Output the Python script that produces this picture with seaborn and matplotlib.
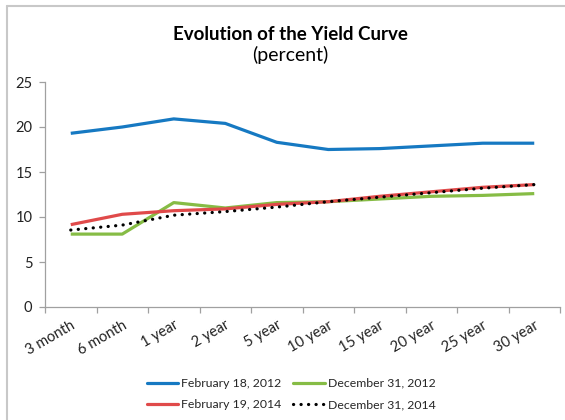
import matplotlib
matplotlib.use("Agg")
import matplotlib.pyplot as plt
from matplotlib.lines import Line2D
import pandas as pd
import seaborn as sns

maturities = ["3 month", "6 month", "1 year", "2 year", "5 year",
              "10 year", "15 year", "20 year", "25 year", "30 year"]
feb_2012 = [19.3, 20.0, 20.9, 20.4, 18.3, 17.5, 17.6, 17.9, 18.2, 18.2]
dec_2012 = [8.1, 8.1, 11.6, 11.0, 11.6, 11.7, 12.0, 12.3, 12.4, 12.6]
feb_2014 = [9.15, 10.3, 10.7, 10.9, 11.4, 11.7, 12.3, 12.8, 13.3, 13.6]
dec_2014 = [8.55, 9.1, 10.2, 10.6, 11.1, 11.7, 12.2, 12.7, 13.2, 13.6]
series_names = ["February 18, 2012", "December 31, 2012",
                "February 19, 2014", "December 31, 2014"]
y_ticks = [0, 5, 10, 15, 20, 25]

sns.set_theme(style="white")
plt.rcParams["font.family"] = ["Lato", "DejaVu Sans"]

W, H = 565, 420
fig = plt.figure(figsize=(W / 100, H / 100), dpi=100)
ax = fig.add_axes([45 / W, 1 - 307 / H, (560 - 45) / W, (307 - 82) / H])

styles = [
    dict(color="#1679C2", linestyle="-", lw=2.3),
    dict(color="#86BC45", linestyle="-", lw=2.3),
    dict(color="#E04A4A", linestyle="-", lw=2.3),
    dict(color="black", linestyle=(0, (0.05, 2.3)), lw=2.3),
]
values = [feb_2012, dec_2012, feb_2014, dec_2014]

handles = []
for name, vals, st in zip(series_names, values, styles):
    df = pd.DataFrame({"x": range(len(maturities)), "y": vals})
    sns.lineplot(data=df, x="x", y="y", ax=ax, sort=False, color=st["color"],
                 linewidth=st["lw"], linestyle=st["linestyle"],
                 dash_capstyle="round", solid_capstyle="butt")
    handles.append(Line2D([], [], color=st["color"], lw=st["lw"],
                          linestyle=st["linestyle"], dash_capstyle="round"))

ax.set_xlim(-0.5, len(maturities) - 0.5)
ax.set_ylim(0, 25)
ax.set_xlabel("")
ax.set_ylabel("")

ax.set_yticks(y_ticks)
ax.set_yticklabels([str(t) for t in y_ticks], fontsize=10.5, color="#222222")
ax.set_xticks(range(len(maturities)))
ax.set_xticklabels(maturities, rotation=30, ha="right", rotation_mode="anchor",
                   fontsize=10.5, color="#222222")
ax.set_xticks([i - 0.5 for i in range(len(maturities) + 1)], minor=True)
ax.tick_params(axis="x", which="major", length=0, pad=8)
ax.tick_params(axis="x", which="minor", length=4, color="#A0A0A0", width=0.9,
               direction="out", bottom=True)
ax.tick_params(axis="y", length=4, color="#A0A0A0", width=0.9,
               direction="out", left=True, pad=5)

for side in ["top", "right"]:
    ax.spines[side].set_visible(False)
for side in ["left", "bottom"]:
    ax.spines[side].set_color("#A0A0A0")
    ax.spines[side].set_linewidth(0.9)
ax.grid(False)

fig.text(290 / W, 1 - 40 / H, "Evolution of the Yield Curve", ha="center",
         va="baseline", fontsize=13.5, fontweight="bold", color="black")
fig.text(290 / W, 1 - 61 / H, "(percent)", ha="center", va="baseline",
         fontsize=14, color="black")

# legend fills column-wise, so order entries to read row by row
order = [0, 2, 1, 3]
fig.legend(handles=[handles[i] for i in order],
           labels=[series_names[i] for i in order], ncol=2, frameon=False,
           loc="center", bbox_to_anchor=(291 / W, 1 - 394 / H),
           fontsize=8.8, handlelength=2.6, handletextpad=0.2,
           columnspacing=1.0, labelspacing=0.85)

# chart frame
fig.add_artist(Line2D([7 / W, 7 / W], [0, 1 - 6 / H], transform=fig.transFigure,
                      color="#C8C8C8", lw=1.5))
fig.add_artist(Line2D([7 / W, 1], [1 - 6 / H, 1 - 6 / H], transform=fig.transFigure,
                      color="#C8C8C8", lw=1.5))

fig.savefig("out.png", dpi=100)
